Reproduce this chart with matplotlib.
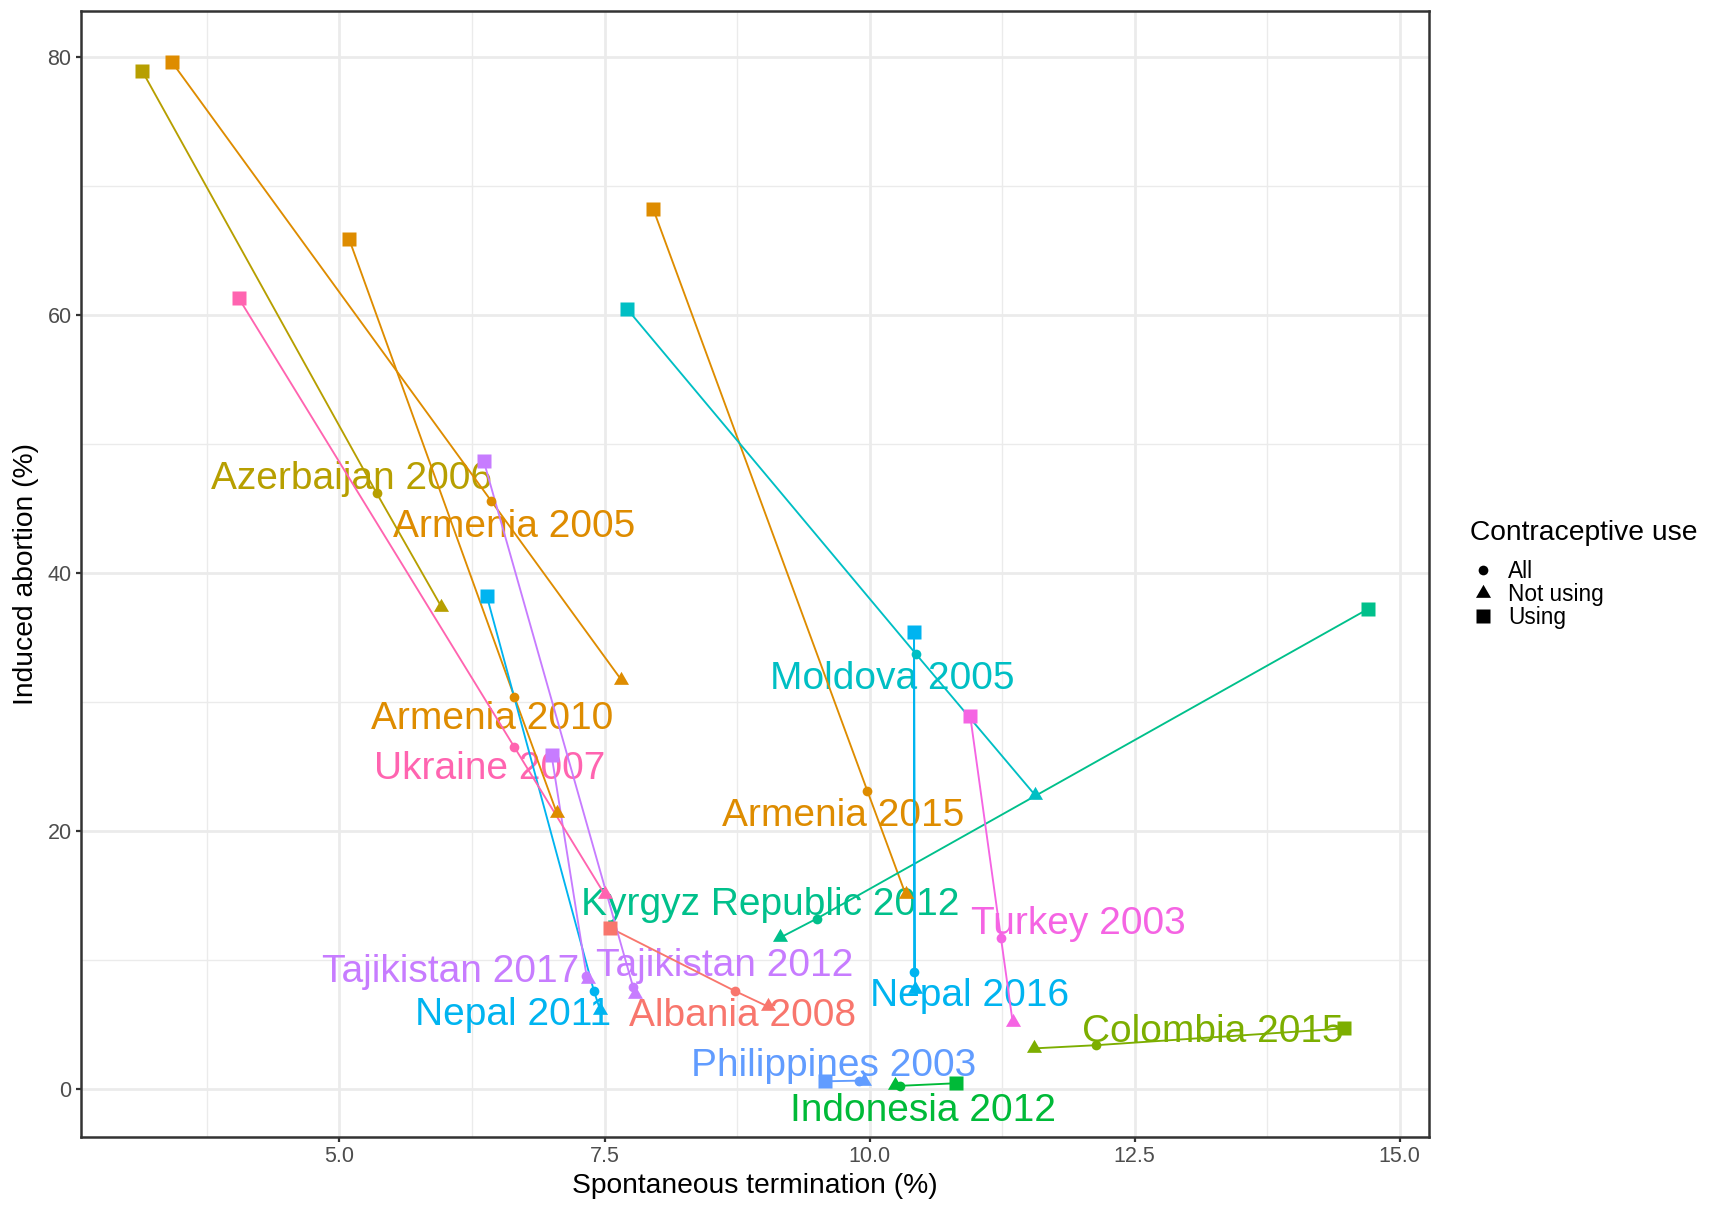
import numpy as np
import matplotlib.pyplot as plt
from matplotlib.lines import Line2D

plt.rcParams['font.family'] = ['Liberation Sans', 'DejaVu Sans']

# Surveys (one line each), coloured by country
surveys = ["Albania 2008", "Armenia 2005", "Armenia 2010", "Armenia 2015",
           "Azerbaijan 2006", "Colombia 2015", "Indonesia 2012",
           "Kyrgyz Republic 2012", "Moldova 2005", "Nepal 2011", "Nepal 2016",
           "Philippines 2003", "Tajikistan 2012", "Tajikistan 2017",
           "Turkey 2003", "Ukraine 2007"]
country = ["Albania", "Armenia", "Armenia", "Armenia", "Azerbaijan", "Colombia",
           "Indonesia", "Kyrgyz Republic", "Moldova", "Nepal", "Nepal",
           "Philippines", "Tajikistan", "Tajikistan", "Turkey", "Ukraine"]

# Spontaneous termination (%) and induced abortion (%) by contraceptive use
spont_using = [7.55, 3.42, 5.09, 7.96, 3.14, 14.48, 10.82, 14.70, 7.71, 6.39,
               10.42, 9.58, 6.36, 7.00, 10.95, 4.05]
induced_using = [12.5, 79.6, 65.9, 68.2, 78.9, 4.7, 0.45, 37.2, 60.5, 38.2,
                 35.4, 0.6, 48.7, 25.9, 28.9, 61.3]
spont_all = [8.73, 6.43, 6.65, 9.98, 5.35, 12.14, 10.29, 9.50, 10.44, 7.40,
             10.42, 9.90, 7.77, 7.33, 11.24, 6.65]
induced_all = [7.6, 45.6, 30.4, 23.1, 46.2, 3.4, 0.25, 13.2, 33.7, 7.6,
               9.1, 0.65, 7.9, 8.8, 11.7, 26.5]
spont_not = [9.04, 7.66, 7.05, 10.34, 5.96, 11.55, 10.24, 9.16, 11.56, 7.46,
             10.43, 9.95, 7.79, 7.34, 11.35, 7.50]
induced_not = [6.4, 31.7, 21.4, 15.1, 37.4, 3.15, 0.3, 11.75, 22.8, 6.1,
               7.75, 0.6, 7.4, 8.5, 5.2, 15.1]

use_levels = ["All", "Not using", "Using"]

# where each survey name sits (repelled away from the points)
label_x = [8.80, 6.65, 6.44, 9.75, 5.11, 13.24, 10.50, 9.06, 10.21, 6.64,
           10.94, 9.66, 8.63, 6.05, 11.97, 6.42]
label_y = [4.85, 42.8, 27.9, 20.4, 46.5, 3.65, -2.5, 13.5, 31.0, 4.95,
           6.45, 1.0, 8.75, 8.3, 12.0, 24.0]

# ggplot hue palette for 12 countries
country_colors = {
    "Albania": "#F8766D", "Armenia": "#DE8C00", "Azerbaijan": "#B79F00",
    "Colombia": "#7CAE00", "Indonesia": "#00BA38", "Kyrgyz Republic": "#00C08B",
    "Moldova": "#00BFC4", "Nepal": "#00B4F0", "Philippines": "#619CFF",
    "Tajikistan": "#C77CFF", "Turkey": "#F564E3", "Ukraine": "#FF64B0",
}

# equilateral triangle like ggplot shape 17
tri = [(-1, -0.577), (1, -0.577), (0, 1.155)]
markers = {"All": ("o", 7), "Not using": (tri, 12.5), "Using": ("s", 9.4)}

fig = plt.figure(figsize=(17.17, 12.07), dpi=100)
ax = fig.add_axes([0.0472, 0.058, 0.7851, 0.9329])

for i, name in enumerate(surveys):
    col = country_colors[country[i]]
    xs = [spont_not[i], spont_all[i], spont_using[i]]
    ys = [induced_not[i], induced_all[i], induced_using[i]]
    order = np.argsort(xs)
    ax.plot(np.array(xs)[order], np.array(ys)[order], color=col, lw=1.35,
            zorder=3, solid_capstyle='butt')
    ax.text(label_x[i], label_y[i], name, color=col, fontsize=28,
            ha='center', va='baseline', zorder=2)

for i in range(len(surveys)):
    col = country_colors[country[i]]
    pts = {"All": (spont_all[i], induced_all[i]),
           "Not using": (spont_not[i], induced_not[i]),
           "Using": (spont_using[i], induced_using[i])}
    for lev in use_levels:
        m, ms = markers[lev]
        ax.plot(*pts[lev], marker=m, ms=ms, color=col, mec='none',
                ls='none', zorder=4)

# 5% expansion on both axes
allx = spont_using + spont_all + spont_not
ally = induced_using + induced_all + induced_not
dx = (max(allx) - min(allx)) * 0.05
dy = (max(ally) - min(ally)) * 0.05
ax.set_xlim(min(allx) - dx, max(allx) + dx)
ax.set_ylim(min(ally) - dy, max(ally) + dy)

ax.set_xticks([5, 7.5, 10, 12.5, 15])
ax.set_xticklabels(["5.0", "7.5", "10.0", "12.5", "15.0"])
ax.set_xticks([3.75, 6.25, 8.75, 11.25, 13.75], minor=True)
ax.set_yticks([0, 20, 40, 60, 80])
ax.set_yticks([10, 30, 50, 70], minor=True)

ax.grid(which='major', color='#EBEBEB', lw=2.0)
ax.grid(which='minor', color='#EBEBEB', lw=1.0)
ax.set_axisbelow(True)
ax.tick_params(which='major', length=3.8, width=1.6, color='#333333',
               labelsize=15.5, labelcolor='#4D4D4D', pad=3)
ax.tick_params(which='minor', length=0)
for s in ax.spines.values():
    s.set_color('#333333')
    s.set_linewidth(1.8)

ax.set_xlabel('Spontaneous termination (%)', fontsize=20.3, labelpad=4)
ax.set_ylabel('Induced abortion (%)', fontsize=20.3, labelpad=6)

# shape legend: title as its own text, keys below it
fig.text(0.856, 0.5583, 'Contraceptive use', fontsize=20.3, va='center',
         ha='left')
handles = [Line2D([], [], ls='none', marker=markers[lev][0],
                  ms=markers[lev][1], color='black', mec='none')
           for lev in use_levels]
fig.legend(handles, use_levels, loc='upper left',
           bbox_to_anchor=(0.8497, 0.5453), frameon=False, fontsize=16.3,
           borderpad=0, handlelength=1.15, handletextpad=0.53,
           labelspacing=0.0)

fig.savefig('out.png', dpi=100)
